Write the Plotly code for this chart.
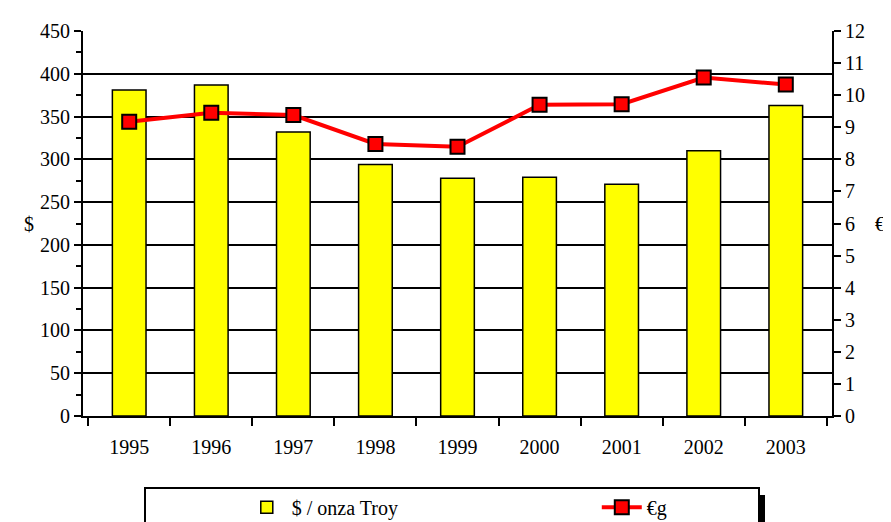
import plotly.graph_objects as go

years = ["1995", "1996", "1997", "1998", "1999", "2000", "2001", "2002", "2003"]
usd_per_troy_oz = [381, 387, 332, 294, 278, 279, 271, 310, 363]
eur_per_gram = [9.17, 9.45, 9.38, 8.48, 8.39, 9.70, 9.72, 10.55, 10.33]

FONT = "Liberation Serif, Times New Roman, serif"
FS = 20

fig = go.Figure()
fig.add_trace(go.Bar(
    x=years, y=usd_per_troy_oz, name="$ / onza Troy",
    marker=dict(color="#FFFF00", line=dict(color="black", width=1.5)),
    width=0.41, yaxis="y",
))
fig.add_trace(go.Scatter(
    x=years, y=eur_per_gram, name="€g", mode="lines+markers",
    line=dict(color="#FF0000", width=4),
    marker=dict(symbol="square", size=14, color="#FF0000", line=dict(color="black", width=2)),
    yaxis="y2",
))

fig.update_layout(
    width=891, height=522,
    margin=dict(l=75, r=67, t=23, b=114, autoexpand=False),
    paper_bgcolor="white", plot_bgcolor="white",
    font=dict(family=FONT, size=FS, color="black"),
    showlegend=True,
    xaxis=dict(
        type="category", tickson="boundaries", ticks="outside", ticklen=8,
        tickwidth=2, tickcolor="black", showgrid=False, showline=True,
        linecolor="black", linewidth=2, ticklabelstandoff=12,
        tickfont=dict(family=FONT, size=FS), automargin=False,
    ),
    yaxis=dict(
        range=[0, 450], dtick=50, tick0=0, ticks="outside", ticklen=7,
        tickwidth=2, tickcolor="black", showline=True, linecolor="black",
        linewidth=2, showgrid=True, gridcolor="black", gridwidth=2,
        zeroline=False, automargin=False,
        minor=dict(dtick=25, ticks="outside", ticklen=5, tickwidth=2,
                   tickcolor="black", showgrid=False),
        tickfont=dict(family=FONT, size=FS),
    ),
    yaxis2=dict(
        range=[0, 12], dtick=1, tick0=0, overlaying="y", side="right",
        ticks="outside", ticklen=7, tickwidth=2, tickcolor="black",
        showline=True, linecolor="black", linewidth=2, showgrid=False,
        zeroline=False, automargin=False, tickfont=dict(family=FONT, size=FS),
    ),
    legend=dict(
        orientation="h", x=0.212, xanchor="left", y=-0.237, yanchor="middle",
        bgcolor="rgba(0,0,0,0)", borderwidth=0,
        entrywidth=300, entrywidthmode="pixels",
        font=dict(family=FONT, size=FS), itemwidth=40,
    ),
    annotations=[
        dict(text="$", xref="paper", yref="paper", x=-0.0814, y=0.50,
             showarrow=False, font=dict(family=FONT, size=FS)),
        dict(text="€", xref="paper", yref="paper", x=(872 - 75) / 749, y=0.50,
             xanchor="center", showarrow=False,
             font=dict(family=FONT, size=FS)),
    ],
    shapes=[
        # legend shadow
        dict(type="rect", xref="paper", yref="paper",
             x0=(751 - 75) / 749, x1=(757 - 75) / 749,
             y0=(408 - 487) / 385, y1=(408 - 540) / 385,
             fillcolor="black", line=dict(width=0), layer="below"),
        # legend box
        dict(type="rect", xref="paper", yref="paper",
             x0=(137 - 75) / 749, x1=(751 - 75) / 749,
             y0=(408 - 480) / 385, y1=(408 - 540) / 385,
             fillcolor="rgba(0,0,0,0)", line=dict(color="black", width=2)),
    ],
)

fig.write_html("out.html")
